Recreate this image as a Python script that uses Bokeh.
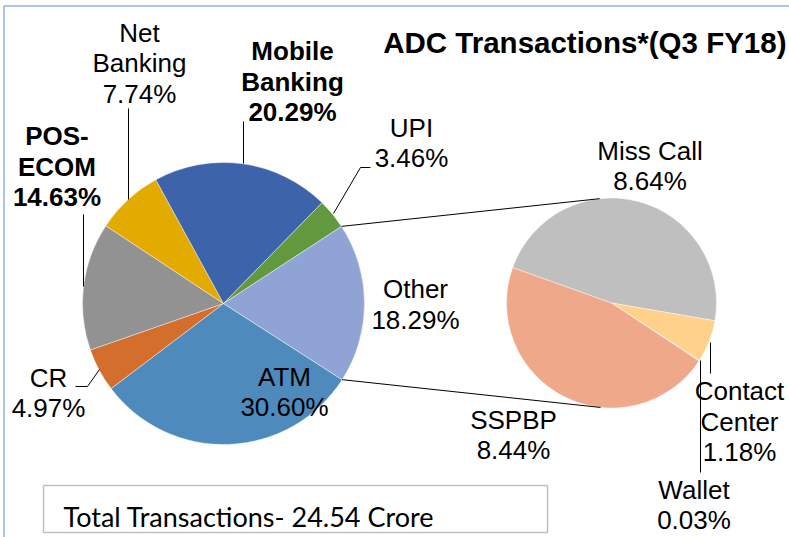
import math
from bokeh.plotting import figure
from bokeh.models import Range1d, ColumnDataSource
from bokeh.embed import file_html
from bokeh.resources import INLINE
from bokeh.core.properties import value

# ---------------- data ----------------
main_categories = ["ATM", "CR", "POS-ECOM", "Net Banking", "Mobile Banking", "UPI", "Other"]
main_values = [30.60, 4.97, 14.63, 7.74, 20.29, 3.46, 18.29]
sub_categories = ["Miss Call", "Contact Center", "Wallet", "SSPBP"]
sub_values = [8.64, 1.18, 0.03, 8.44]
title_text = "ADC Transactions*(Q3 FY18)"
total_text = "Total Transactions- 24.54 Crore"

# ---------------- style / layout ----------------
main_colors = ["#4F8ABD", "#D36E2C", "#929292", "#E3AA00", "#3D64AB", "#62993F", "#8FA4D4"]
sub_colors = ["#BFBFBF", "#FFD18A", "#9DC3E6", "#F0A88A"]

W, H = 789, 537
OFF = 0
MAIN_C = (223, 303)
MAIN_R = 141
MAIN_START = 122.7   # clockwise from 12 o'clock, first slice start
SUB_C = (611, 302.5)
SUB_R = 105
SUB_START = 289.7
FONT = "Liberation Sans"
FS = "26px"
LINE_H = 30.5
LBL_SHIFT = 9.5   # renderer baseline correction (px)

# label layout: name -> (center x, first baseline, lines, bold)
label_layout = {
    "Net Banking": (139, 41.5, ["Net", "Banking"], False),
    "Mobile Banking": (292, 60, ["Mobile", "Banking"], True),
    "POS-ECOM": (56.5, 145, ["POS-", "ECOM"], True),
    "UPI": (411, 136.5, ["UPI"], False),
    "Other": (415, 298, ["Other"], False),
    "CR": (48, 386.5, ["CR"], False),
    "ATM": (284, 385.5, ["ATM"], False),
    "Miss Call": (649.5, 159.5, ["Miss Call"], False),
    "SSPBP": (513, 428.5, ["SSPBP"], False),
    "Contact Center": (739, 400, ["Contact", "Center"], False),
    "Wallet": (693.5, 498.5, ["Wallet"], False),
}
leader_lines = [
    [(128, 108), (128, 199)],
    [(243, 121), (243, 163)],
    [(83, 214), (83, 286)],
    [(370, 167), (360, 167), (333, 213)],
    [(75, 386), (87, 386), (99, 369)],
    [(710, 342), (710, 373)],
    [(700, 360), (700, 472)],
]

p = figure(width=W, height=H, output_backend="svg", toolbar_location=None,
           x_range=Range1d(OFF, OFF + W), y_range=Range1d(-(OFF + H), -OFF),
           min_border=0, outline_line_color=None)
p.axis.visible = False
p.grid.visible = False
p.background_fill_color = "white"
p.border_fill_color = "white"

# chart border (top/left)
p.line([3.5, 3.5, 789], [-537, -5.5, -5.5], line_color="#8EB4E3", line_width=1.5)

# total box
p.quad(left=[43], right=[547], top=[-485], bottom=[-532],
       fill_color="white", line_color="#C0C0C0", line_width=1.5)


def wedges(cx, cy, r, start, vals, colors):
    tot = sum(vals)
    s_list, e_list, th = [], [], []
    acc = start
    for v in vals:
        a1 = acc
        a2 = acc + v / tot * 360.0
        s_list.append(math.radians(90 - a2))
        e_list.append(math.radians(90 - a1))
        th.append((a1, a2))
        acc = a2
    src = ColumnDataSource(dict(x=[cx] * len(vals), y=[-cy] * len(vals),
                                s=s_list, e=e_list, c=colors))
    p.wedge(x="x", y="y", radius=r, start_angle="s", end_angle="e",
            direction="anticlock", fill_color="c",
            line_color="white", line_width=0.6, line_alpha=0.7, source=src)
    return th


main_th = wedges(MAIN_C[0], MAIN_C[1], MAIN_R, MAIN_START, main_values, main_colors)
sub_wedges = wedges(SUB_C[0], SUB_C[1], SUB_R, SUB_START, sub_values, sub_colors)


def pt(c, r, ang):
    a = math.radians(ang)
    return c[0] + r * math.sin(a), c[1] - r * math.cos(a)


# connector lines from the "Other" slice edges to the secondary pie
o1, o2 = main_th[main_categories.index("Other")]
pa = pt(MAIN_C, MAIN_R, o1)
pb = pt(MAIN_C, MAIN_R, o2)
qa = pt(SUB_C, SUB_R, -6.5)
qb = pt(SUB_C, SUB_R, 186.0)
p.line([pa[0], qa[0]], [-pa[1], -qa[1]], line_color="black", line_width=1)
p.line([pb[0], qb[0]], [-pb[1], -qb[1]], line_color="black", line_width=1)

# leader lines
for seg in leader_lines:
    p.line([q[0] for q in seg], [-q[1] for q in seg], line_color="black", line_width=1)

# data labels
all_vals = dict(zip(main_categories, main_values))
all_vals.update(dict(zip(sub_categories, sub_values)))
for name, (lx, ly, lines, bold) in label_layout.items():
    txt = lines + [f"{all_vals[name]:.2f}%"]
    xs = [lx] * len(txt)
    ys = [-(ly - LBL_SHIFT + i * LINE_H) for i in range(len(txt))]
    p.text(x=xs, y=ys, text=txt, text_font=value(FONT), text_font_size=FS,
           text_font_style="bold" if bold else "normal",
           text_align="center", text_baseline="alphabetic", text_color="black")

# title
p.text(x=[786], y=[-(53 - 11.5)], text=[title_text], text_font=value(FONT),
       text_font_size="29.5px", text_font_style="bold", text_align="right",
       text_baseline="alphabetic", text_color="black")

# total text
p.text(x=[63], y=[-(525 - 9)], text=[total_text], text_font=value("Lato"),
       text_font_size="27px", text_align="left", text_baseline="alphabetic",
       text_color="black")

open("out.html", "w").write(file_html(p, INLINE))
